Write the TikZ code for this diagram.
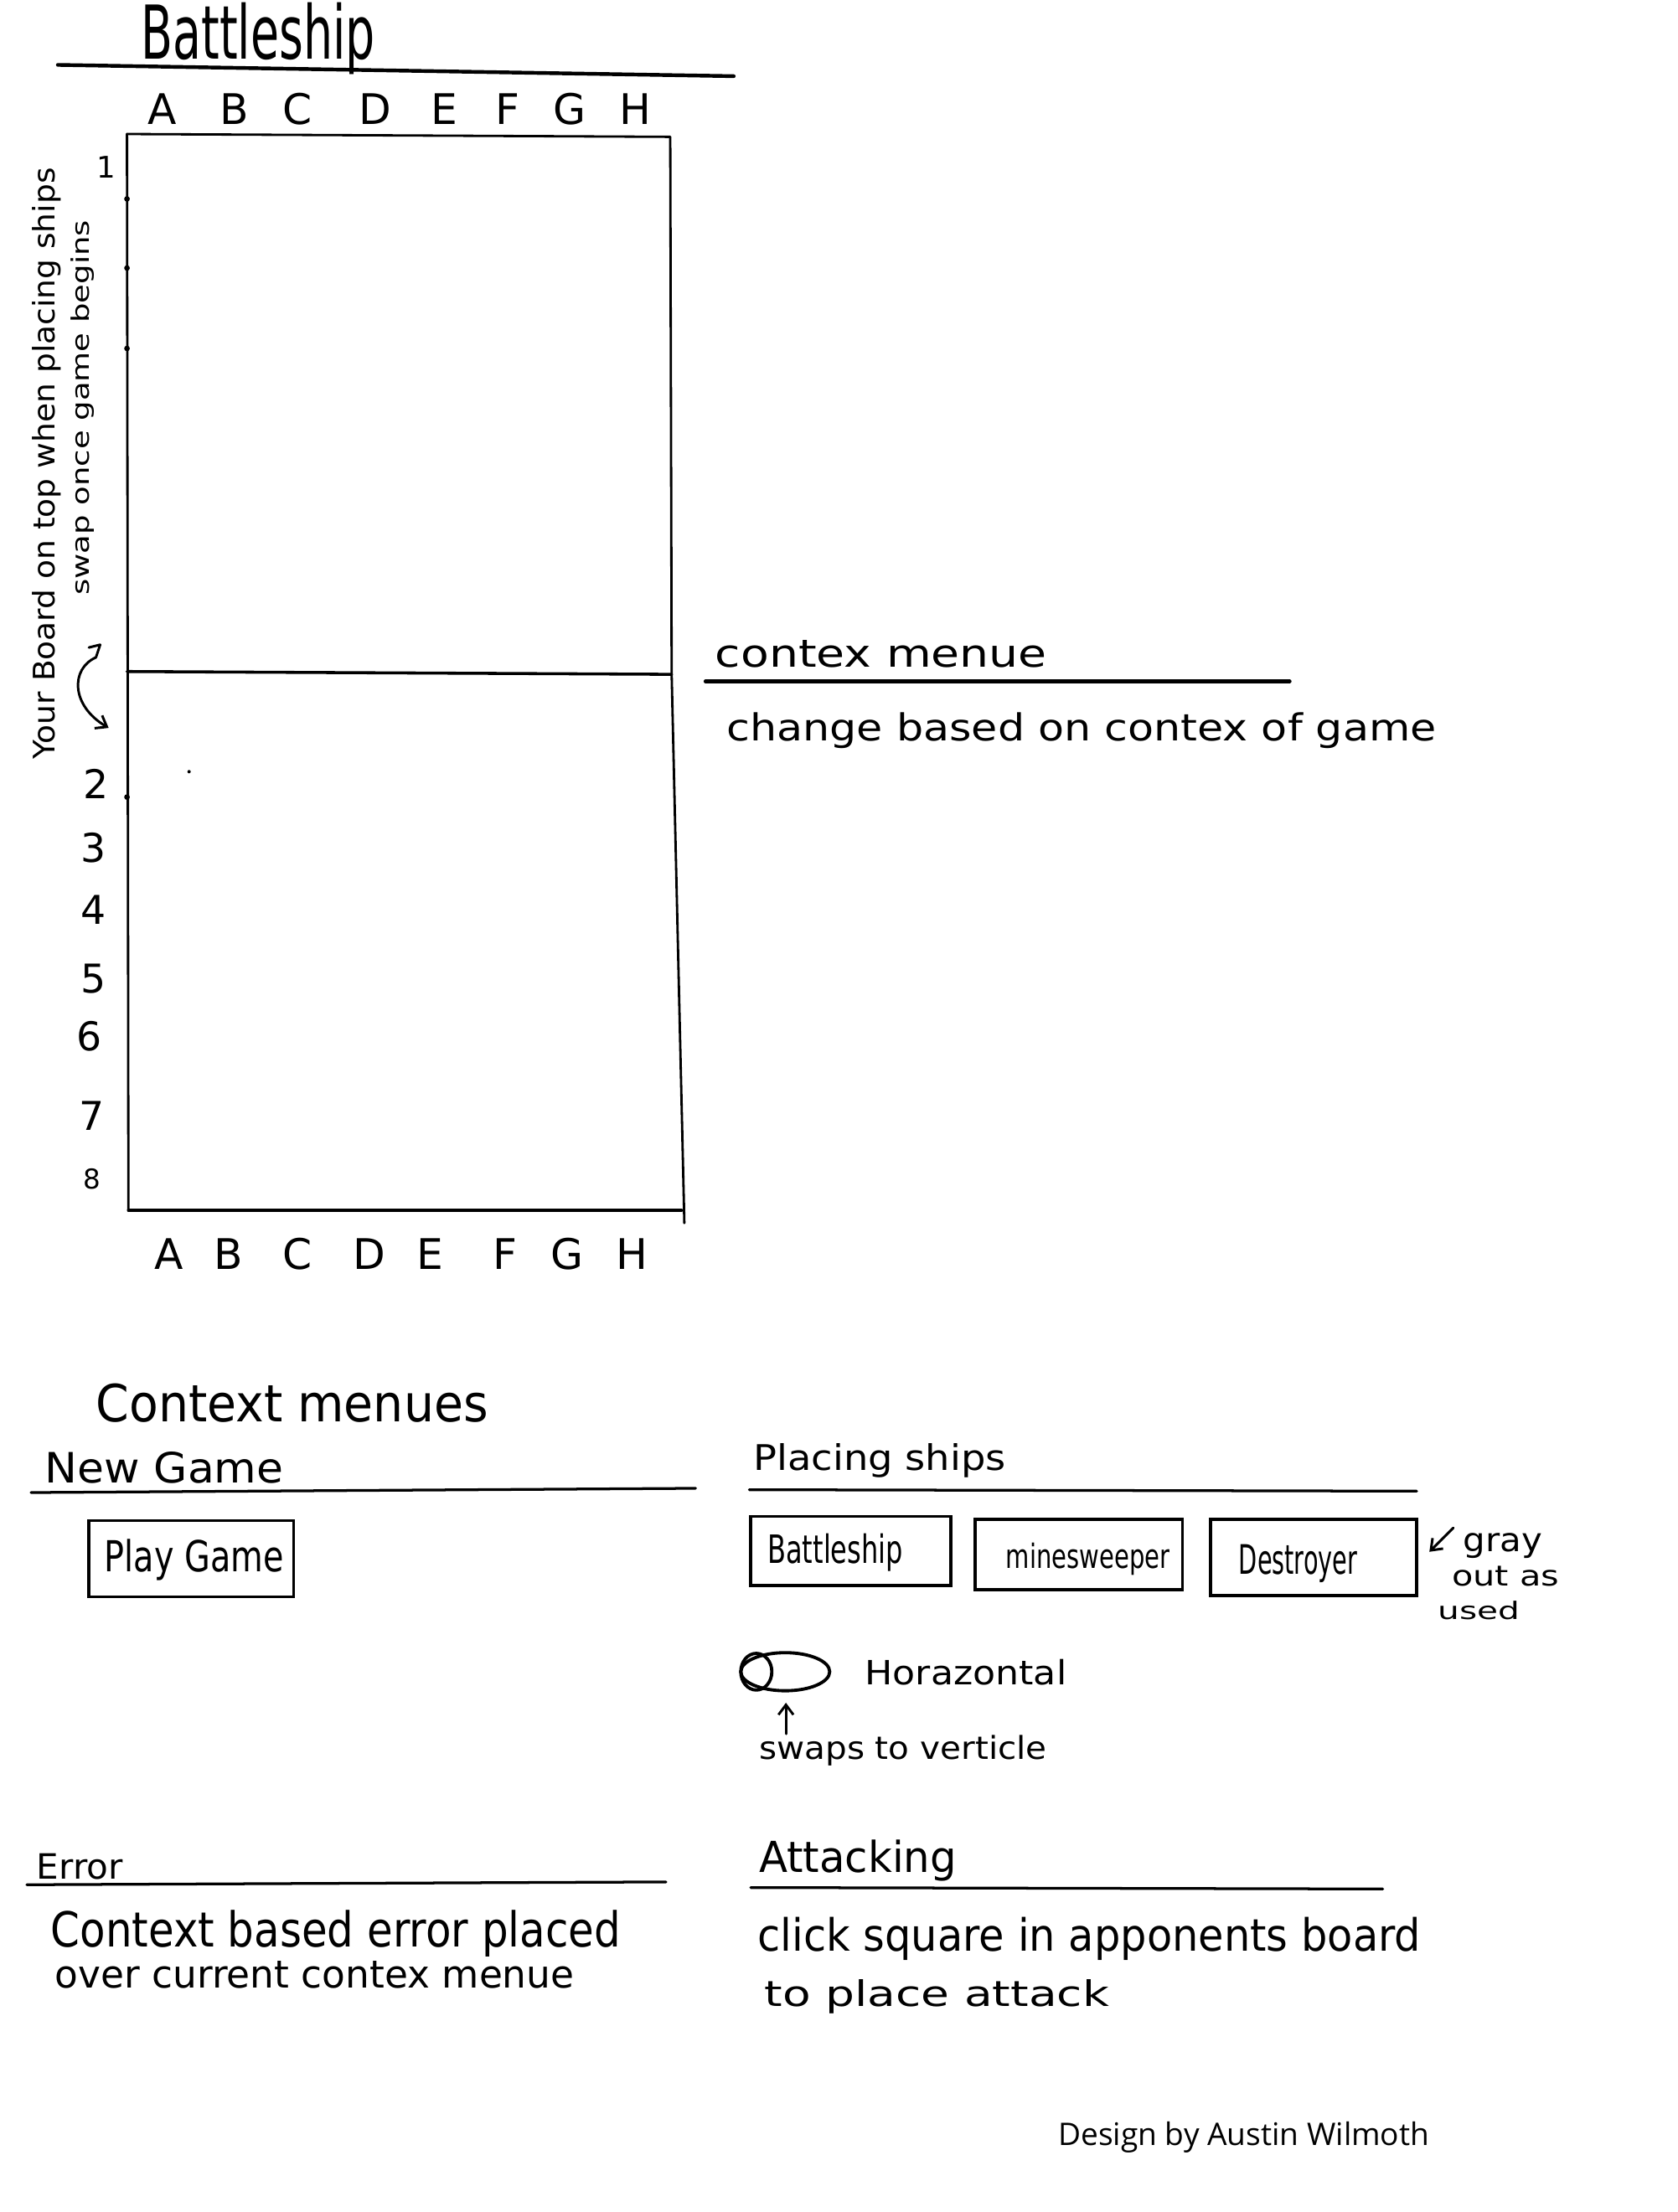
\documentclass[tikz,border=0pt]{standalone}
\usepackage{fontspec}
\setmainfont{DejaVu Sans}
\newfontfamily\creditfont{Open Sans}
\usetikzlibrary{arrows.meta}
\newlength\pxu
\setlength\pxu{0.02cm}
\newcommand\hw[3]{\resizebox{#1\pxu}{#2\pxu}{#3}}
\begin{document}
\begin{tikzpicture}[x=0.02cm,y=-0.02cm,
  ink/.style={line width=1.1pt, line cap=round, line join=round, black},
  heavy/.style={line width=1.5pt, line cap=round, black},
  boardline/.style={line width=0.95pt, line cap=round, line join=round, black},
  txt/.style={anchor=base west, inner sep=0pt, outer sep=0pt},
  lab/.style={anchor=base, inner sep=0pt, outer sep=0pt, font=\fontsize{17pt}{20pt}\selectfont},
  num/.style={anchor=base, inner sep=0pt, outer sep=0pt, font=\fontsize{16pt}{19pt}\selectfont},
  btn/.style={draw, line width=1.2pt, inner sep=0pt, outer sep=0pt},
  tip/.style={-{Straight Barb[length=4pt,width=6pt]}, line width=1pt, line cap=round}
]
\useasboundingbox (0,0) rectangle (1189,1568);
\fill[white] (0,0) rectangle (1189,1568);

% ---------- title ----------
\node[txt] (title) at (100,42) {\hw{166}{40}{Battleship}};
\coordinate (tlA) at (41,46);
\coordinate (tlB) at (520,54);
\draw[heavy] (tlA) -- (tlB);

% ---------- column letters ----------
\foreach \L/\X in {A/115,B/166,C/211,D/266,E/315,F/360,G/404,H/450}
  \node[lab] (top\L) at (\X,88) {\L};
\foreach \L/\X in {A/120,B/162,C/211,D/262,E/305,F/358,G/402,H/448}
  \node[lab] (bot\L) at (\X,900) {\L};

% ---------- row numbers ----------
\node[num, font=\fontsize{12pt}{14pt}\selectfont] (r1) at (75,126) {1};
\node[num] (r2) at (68,566) {2};
\node[num] (r3) at (66,611) {3};
\node[num] (r4) at (66,655) {4};
\node[num] (r5) at (66,704) {5};
\node[num] (r6) at (63,745) {6};
\node[num] (r7) at (65,801) {7};
\node[num, font=\fontsize{11pt}{13pt}\selectfont] (r8) at (65,843) {8};

% ---------- board ----------
\coordinate (tl) at (90,95);
\coordinate (tr) at (475,97);
\coordinate (ml) at (90,476);
\coordinate (mr) at (476,478);
\coordinate (bl) at (91,858);
\coordinate (br) at (483,858);
\coordinate (rb) at (485,867);
\draw[boardline] (tl) -- (tr) -- (mr);
\draw[boardline] (tl) -- (bl);
\draw[boardline, line width=1.2pt] (ml) -- (mr);
\draw[boardline] (mr) -- (rb);
\draw[boardline, line width=1.2pt] (bl) -- (br);
\foreach \Y in {141,190,247,565}
  \fill (90,\Y) circle[radius=2];
\fill (134,547) circle[radius=1.2];

% ---------- side notes ----------
\node[txt, rotate=90] (side1) at (39,538) {\hw{419}{16}{Your Board on top when placing ships}};
\node[txt, rotate=90] (side2) at (63,422) {\hw{266}{13}{swap once game begins}};
\coordinate (swA) at (68,466);
\coordinate (swB) at (77,516);
\draw[tip] (swA) .. controls (50,474) and (50,500) .. (swB);
\draw[line width=1pt, line cap=round, line join=round] (63,459) -- (71,457) -- (68,466);

% ---------- context menu (right of board) ----------
\node[txt] (cm1) at (507,473) {\hw{235}{19}{contex menue}};
\coordinate (cmA) at (500,483);
\coordinate (cmB) at (914,483);
\draw[heavy] (cmA) -- (cmB);
\node[txt] (cm2) at (515,525) {\hw{503}{20}{change based on contex of game}};

% ---------- context menues ----------
\node[txt] (ctx) at (68,1008) {\hw{278}{27}{Context menues}};

% New game
\node[txt] (newg) at (32,1051) {\hw{169}{22}{New Game}};
\coordinate (ngA) at (22,1058);
\coordinate (ngB) at (493,1055);
\draw[ink] (ngA) -- (ngB);
\node[btn, minimum width=145\pxu, minimum height=54\pxu] (playbox) at (135.5,1105) {};
\node[txt] (play) at (74,1114) {\hw{127}{23}{Play Game}};

% Placing ships
\node[txt] (place) at (534,1042) {\hw{179}{19}{Placing ships}};
\coordinate (psA) at (531,1056);
\coordinate (psB) at (1004,1057);
\draw[ink] (psA) -- (psB);
\node[btn, minimum width=142\pxu, minimum height=49\pxu] (box1) at (603,1099.5) {};
\node[btn, minimum width=147\pxu, minimum height=50\pxu] (box2) at (764.5,1102) {};
\node[btn, minimum width=146\pxu, minimum height=54\pxu] (box3) at (931,1104) {};
\node[txt] (b1) at (544,1108) {\hw{96}{21}{Battleship}};
\node[txt] (b2) at (713,1112) {\hw{116}{18}{minesweeper}};
\node[txt] (b3) at (878,1116) {\hw{84}{21}{Destroyer}};

\node[txt] (gray) at (1037,1100) {\hw{56}{13}{gray}};
\node[txt] (outas) at (1029,1124) {\hw{76}{14}{out as}};
\node[txt] (used) at (1019,1148) {\hw{58}{13}{used}};
\coordinate (gA) at (1030,1083);
\coordinate (gB) at (1013,1100);
\draw[tip] (gA) -- (gB);

% toggle
\draw[ink, line width=1.3pt] (556.5,1185) ellipse[x radius=31.5, y radius=13.5];
\draw[ink, line width=1.3pt] (536,1185) ellipse[x radius=11, y radius=13];
\node[txt] (horiz) at (613,1194) {\hw{143}{18}{Horazontal}};
\coordinate (upA) at (557,1229);
\coordinate (upB) at (557,1207);
\draw[tip] (upA) -- (upB);
\node[txt] (swaps) at (538,1247) {\hw{204}{17}{swaps to verticle}};

% Error
\node[txt] (error) at (26,1332) {\hw{61}{18}{Error}};
\coordinate (erA) at (19,1336);
\coordinate (erB) at (472,1334);
\draw[ink] (erA) -- (erB);
\node[txt] (err1) at (36,1380) {\hw{404}{26}{Context based error placed}};
\node[txt] (err2) at (39,1409) {\hw{368}{19}{over current contex menue}};

% Attacking
\node[txt] (atk) at (538,1327) {\hw{140}{23}{Attacking}};
\coordinate (atA) at (532,1338);
\coordinate (atB) at (980,1339);
\draw[ink] (atA) -- (atB);
\node[txt] (atk1) at (537,1383) {\hw{470}{24}{click square in apponents board}};
\node[txt] (atk2) at (542,1422) {\hw{244}{19}{to place attack}};

% credit
\node[txt] (credit) at (750,1521) {\creditfont\resizebox{263\pxu}{!}{Design by Austin Wilmoth}};
\end{tikzpicture}
\end{document}
